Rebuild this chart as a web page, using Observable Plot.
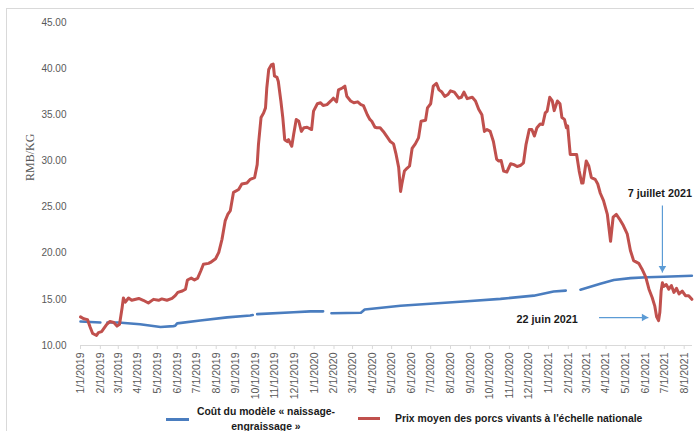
<!DOCTYPE html>
<html><head><meta charset="utf-8">
<script src="https://cdn.jsdelivr.net/npm/d3@7"></script>
<script src="https://cdn.jsdelivr.net/npm/@observablehq/plot@0.6"></script>
<style>
body{margin:0;background:#fff;width:694px;height:431px;overflow:hidden;position:relative;font-family:"Liberation Sans",Arial,sans-serif}
#frame{position:absolute;left:6px;top:8px;width:800px;height:600px;border:1px solid #d9d9d9}
#chart{position:absolute;left:0;top:0}
.leg{position:absolute;font-weight:bold;font-size:10.4px;color:#1a1a1a;white-space:nowrap}
.sw{position:absolute;height:3px}
</style></head>
<body>
<div id="frame"></div>
<div id="chart"></div>
<div class="sw" style="left:166px;top:418px;width:23px;background:#4a7dbf"></div>
<div class="leg" style="left:196px;top:404px;width:140px;text-align:center;line-height:15px">Coût du modèle « naissage-<br>engraissage »</div>
<div class="sw" style="left:358px;top:417px;width:22px;background:#c0504d"></div>
<div class="leg" style="left:395px;top:411px;line-height:15px">Prix moyen des porcs vivants à l'échelle nationale</div>
<script>
// Prix moyen des porcs vivants (RMB/kg)
const priceDates = ["2019-01-01","2019-01-06","2019-01-12","2019-01-16","2019-01-20","2019-01-26","2019-01-29","2019-02-03","2019-02-06","2019-02-11","2019-02-16","2019-02-22","2019-02-27","2019-03-03","2019-03-07","2019-03-09","2019-03-12","2019-03-17","2019-03-22","2019-04-02","2019-04-09","2019-04-17","2019-04-25","2019-05-03","2019-05-08","2019-05-16","2019-05-24","2019-05-29","2019-06-02","2019-06-09","2019-06-14","2019-06-17","2019-06-23","2019-06-28","2019-07-03","2019-07-08","2019-07-12","2019-07-20","2019-07-23","2019-07-31","2019-08-05","2019-08-10","2019-08-15","2019-08-19","2019-08-23","2019-08-28","2019-09-05","2019-09-10","2019-09-18","2019-09-23","2019-09-30","2019-10-04","2019-10-06","2019-10-10","2019-10-14","2019-10-17","2019-10-19","2019-10-22","2019-10-26","2019-10-29","2019-10-31","2019-11-04","2019-11-06","2019-11-10","2019-11-13","2019-11-16","2019-11-20","2019-11-22","2019-11-25","2019-11-27","2019-11-30","2019-12-04","2019-12-08","2019-12-12","2019-12-16","2019-12-21","2019-12-28","2019-12-31","2020-01-06","2020-01-11","2020-01-15","2020-01-21","2020-01-27","2020-01-31","2020-02-05","2020-02-08","2020-02-14","2020-02-18","2020-02-21","2020-02-27","2020-03-03","2020-03-09","2020-03-14","2020-03-18","2020-03-24","2020-03-28","2020-03-31","2020-04-05","2020-04-08","2020-04-13","2020-04-18","2020-04-24","2020-04-29","2020-05-04","2020-05-08","2020-05-12","2020-05-15","2020-05-17","2020-05-21","2020-05-25","2020-05-29","2020-06-02","2020-06-07","2020-06-12","2020-06-16","2020-06-23","2020-06-26","2020-07-01","2020-07-05","2020-07-10","2020-07-14","2020-07-18","2020-07-23","2020-07-28","2020-08-01","2020-08-07","2020-08-14","2020-08-18","2020-08-22","2020-08-27","2020-09-04","2020-09-09","2020-09-14","2020-09-19","2020-09-23","2020-09-27","2020-10-02","2020-10-07","2020-10-12","2020-10-15","2020-10-19","2020-10-23","2020-10-28","2020-11-03","2020-11-08","2020-11-13","2020-11-18","2020-11-23","2020-11-27","2020-12-02","2020-12-06","2020-12-10","2020-12-14","2020-12-19","2020-12-23","2020-12-27","2020-12-30","2021-01-03","2021-01-07","2021-01-10","2021-01-15","2021-01-19","2021-01-22","2021-01-26","2021-01-29","2021-01-31","2021-02-04","2021-02-14","2021-02-18","2021-02-22","2021-02-24","2021-03-01","2021-03-05","2021-03-09","2021-03-15","2021-03-19","2021-03-23","2021-03-28","2021-04-03","2021-04-08","2021-04-12","2021-04-17","2021-04-22","2021-04-28","2021-05-04","2021-05-09","2021-05-14","2021-05-22","2021-05-27","2021-06-02","2021-06-07","2021-06-12","2021-06-16","2021-06-19","2021-06-22","2021-06-24","2021-06-26","2021-06-28","2021-06-30","2021-07-04","2021-07-08","2021-07-12","2021-07-16","2021-07-20","2021-07-24","2021-07-29","2021-08-03","2021-08-08","2021-08-13"];
const priceValues = [13.1,12.9,12.8,12.0,11.3,11.1,11.4,11.5,11.8,12.3,12.6,12.5,12.1,12.3,14.1,15.15,14.7,15.15,14.9,15.1,14.9,14.6,15.0,14.9,15.05,14.9,15.1,15.4,15.75,15.9,16.1,17.1,17.3,17.1,17.3,18.1,18.8,18.9,19.0,19.4,20.1,21.5,23.5,24.2,24.6,26.6,26.9,27.5,27.6,28.0,28.2,29.6,31.8,34.7,35.2,35.75,37.9,39.9,40.4,40.5,39.2,39.05,38.6,36.5,34.7,32.3,32.1,32.3,31.85,31.6,32.9,34.5,34.3,33.2,33.6,33.65,33.4,35.4,36.2,36.3,36.0,36.1,36.5,36.8,36.4,37.7,37.9,38.1,37.0,36.5,36.3,36.4,36.1,36.0,35.0,34.5,34.3,33.65,33.6,33.6,33.2,32.6,32.1,31.85,30.7,29.3,26.7,27.5,28.9,29.2,29.45,31.35,31.85,32.5,34.3,34.4,35.75,36.2,38.1,38.4,37.7,37.5,37.0,37.2,37.6,37.45,36.8,36.9,37.45,36.75,36.9,36.5,35.6,35.0,33.2,33.4,33.2,32.1,30.2,30.0,30.05,28.9,28.8,29.7,29.6,29.4,29.5,29.8,31.8,33.4,33.4,32.7,33.6,34.0,33.95,35.2,35.4,36.9,36.5,35.45,36.5,36.2,34.7,34.5,33.6,33.8,30.7,30.7,28.9,27.6,27.6,30.0,29.45,28.2,28.0,27.5,26.5,25.7,24.2,21.3,23.9,24.2,23.7,23.0,22.1,20.3,19.2,18.9,18.3,17.4,16.1,15.2,14.3,13.1,12.7,13.6,15.9,16.8,16.4,16.6,16.1,16.5,15.75,16.2,15.6,15.9,15.4,15.4,15.0];

// Coût du modèle « naissage-engraissage » (RMB/kg); null = interruption
const costDates = ["2019-01-01","2019-02-01","2019-02-06","2019-02-12","2019-03-01","2019-04-04","2019-05-06","2019-05-26","2019-05-29","2019-06-01","2019-07-07","2019-08-18","2019-09-23","2019-09-27","2019-10-01","2019-10-04","2019-11-30","2019-12-26","2020-01-15","2020-01-20","2020-01-28","2020-03-14","2020-03-20","2020-05-15","2020-07-06","2020-08-27","2020-10-18","2020-12-09","2021-01-09","2021-01-28","2021-02-10","2021-02-20","2021-03-23","2021-04-13","2021-05-09","2021-06-04","2021-06-30","2021-08-13"];
const costValues = [12.6,12.5,null,12.5,12.5,12.3,12.0,12.1,12.15,12.4,12.7,13.05,13.25,13.3,null,13.4,13.6,13.7,13.7,null,13.5,13.55,13.9,14.3,14.55,14.8,15.05,15.4,15.85,15.95,null,16.05,16.7,17.1,17.3,17.4,17.45,17.55];

const yTicks = [10,15,20,25,30,35,40,45];

// Annotations
const annotLabels = ["7 juillet 2021","22 juin 2021"];
const annotLabelDates = ["2021-06-24","2020-12-30"];
const annotLabelValues = [26.47,12.82];
const arrowStartDates = ["2021-06-28","2021-03-21"];
const arrowStartValues = [25.17,13.03];
const arrowEndDates = ["2021-06-28","2021-06-06"];
const arrowEndValues = [17.91,13.03];

const parse = d3.utcParse("%Y-%m-%d");
const price = priceDates.map((d,i)=>({date:parse(d), value:priceValues[i]}));
const cost = costDates.map((d,i)=>({date:parse(d), value:costValues[i]}));
const labels = annotLabels.map((t,i)=>({text:t, date:parse(annotLabelDates[i]), value:annotLabelValues[i]}));
const arrows = arrowStartDates.map((d,i)=>({x1:parse(d), y1:arrowStartValues[i], x2:parse(arrowEndDates[i]), y2:arrowEndValues[i]}));
const monthTicks = d3.utcMonth.range(parse("2019-01-01"), parse("2021-08-02"));
const arrowColor = "#5b9bd5";

const chart = Plot.plot({
  width: 694, height: 400,
  marginLeft: 80, marginRight: 2, marginTop: 22, marginBottom: 55,
  style: {fontFamily: "Liberation Sans, Arial, sans-serif", fontSize: "10px", color: "#595959", background: "transparent"},
  x: {type: "utc", domain: [parse("2019-01-01"), parse("2021-08-14")]},
  y: {domain: [10, 45]},
  marks: [
    Plot.ruleY([10], {stroke: "#d9d9d9"}),
    Plot.axisX({ticks: monthTicks, tickFormat: d3.utcFormat("%-m/%-d/%Y"), tickRotate: -90, tickSize: 4, tickPadding: 3, stroke: "#d9d9d9", fill: "#595959", fontSize: 10.5, label: null}),
    Plot.axisY({ticks: yTicks, tickFormat: d3.format(".2f"), tickSize: 0, tickPadding: 14, fill: "#595959", fontSize: 10, label: null}),
    Plot.text(["RMB/KG"], {text: d => d, frameAnchor: "left", dx: -50, dy: -3, rotate: -90, fontFamily: "Liberation Serif, Times New Roman, serif", fontSize: 12, fill: "#595959"}),
    Plot.line(cost, {x: "date", y: "value", stroke: "#4a7dbf", strokeWidth: 2.6}),
    Plot.line(price, {x: "date", y: "value", stroke: "#c0504d", strokeWidth: 3, strokeLinejoin: "round"}),
    Plot.link(arrows, {x1: "x1", y1: "y1", x2: "x2", y2: "y2", stroke: arrowColor, strokeWidth: 1.2}),
    Plot.dot(arrows.slice(0,1), {x: "x2", y: "y2", symbol: "triangle", r: 2.8, fill: arrowColor, stroke: "none", rotate: 180, dy: -4.3}),
    Plot.dot(arrows.slice(1,2), {x: "x2", y: "y2", symbol: "triangle", r: 2.8, fill: arrowColor, stroke: "none", rotate: 90, dx: -4.3}),
    Plot.text(labels, {x: "date", y: "value", text: "text", fontWeight: "bold", fontSize: 10.8, fill: "#1a1a1a"})
  ]
});
document.getElementById("chart").appendChild(chart);
</script>
</body></html>
